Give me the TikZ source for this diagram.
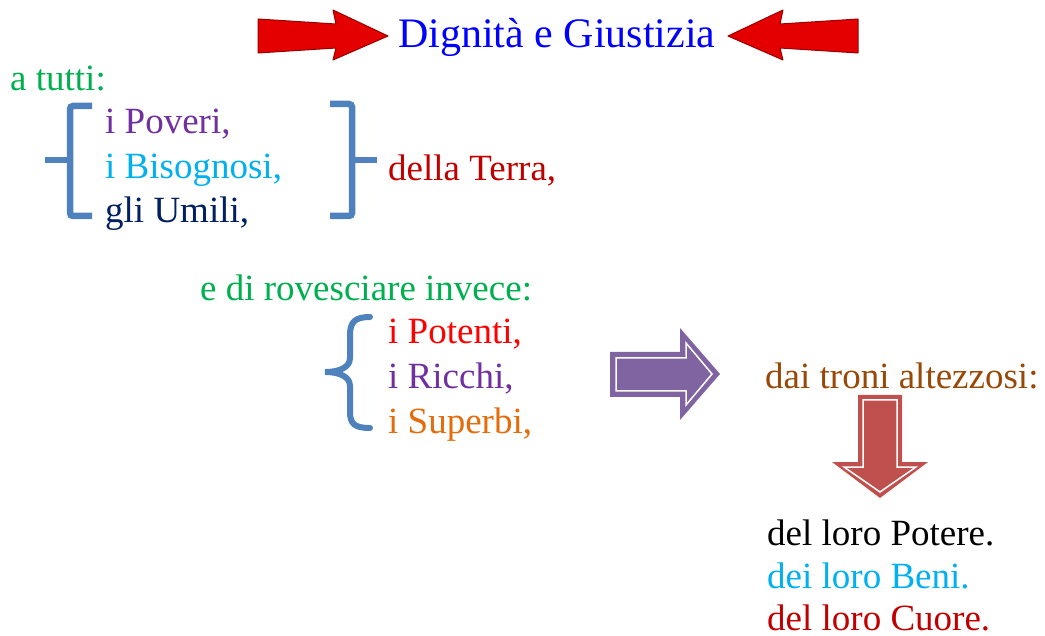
\documentclass[tikz,border=0pt]{standalone}
\usepackage{fontspec}
\setmainfont{Liberation Serif}
\definecolor{verde}{HTML}{00B050}
\definecolor{viola}{HTML}{7030A0}
\definecolor{celeste}{HTML}{00B0F0}
\definecolor{blunotte}{HTML}{002060}
\definecolor{rossoscuro}{HTML}{C00000}
\definecolor{arancio}{HTML}{E46C0A}
\definecolor{marrone}{HTML}{984807}
\definecolor{azzurro}{HTML}{4F81BD}
\definecolor{lilla}{HTML}{8064A2}
\definecolor{mattone}{HTML}{C0504D}
\tikzset{
  txt/.style={anchor=base west,inner sep=0pt,font=\fontsize{37}{45}\selectfont},
  brk/.style={color=azzurro,line width=6.5pt,rounded corners=3pt},
  frecciarossa/.style={fill=red!90!black,draw=red!60!black,line width=1pt,line join=round}
}
\begin{document}
\begin{tikzpicture}[x=1pt,y=-1pt]
\useasboundingbox (0,0) rectangle (1045,636);
% titolo
\node[txt,font=\fontsize{42}{50}\selectfont,text=blue] (titolo) at (398,48) {Dignità e Giustizia};
\filldraw[frecciarossa] (258,19) -- (336,24) -- (333,10) -- (388,36) -- (333,60) -- (336,48) -- (258,53) -- cycle;
\filldraw[frecciarossa] (858,19) -- (780,24) -- (783,10) -- (728,36) -- (783,60) -- (780,48) -- (858,53) -- cycle;
% prima parte
\node[txt,text=verde] (tutti) at (10,91) {a tutti:};
\node[txt,text=viola] (poveri) at (105,134) {i Poveri,};
\node[txt,text=celeste] (bisognosi) at (105,179) {i Bisognosi,};
\node[txt,text=blunotte] (umili) at (105,223) {gli Umili,};
\draw[brk] (92,106) -- (70,106) -- (70,216) -- (92,216);
\draw[brk] (70,160) -- (45,160);
\draw[brk] (330,104) -- (352,104) -- (352,216) -- (330,216);
\draw[brk] (352,160) -- (377,160);
\node[txt,text=rossoscuro] (terra) at (388,181) {della Terra,};
% seconda parte
\node[txt,text=verde] (rovesciare) at (200,301) {e di rovesciare invece:};
\draw[color=azzurro,line width=6pt,line cap=round] (370,317) .. controls (355,317) and (350,322) .. (350,335) -- (350,358)
  .. controls (350,367) and (340,372) .. (325,372) .. controls (340,372) and (350,377) .. (350,386)
  -- (350,412) .. controls (350,424) and (355,428) .. (370,428);
\node[txt,text=red] (potenti) at (388,344) {i Potenti,};
\node[txt,text=viola] (ricchi) at (388,389) {i Ricchi,};
\node[txt,text=arancio] (superbi) at (388,434) {i Superbi,};
% frecce
\fill[lilla] (610,352) -- (680,352) -- (680,328) -- (720,374) -- (680,420) -- (680,397) -- (610,397) -- cycle;
\draw[white,line width=1.5pt] (616,358) -- (686,358) -- (686,343) -- (712,374) -- (686,405) -- (686,391) -- (616,391) -- cycle;
\node[txt,text=marrone] (troni) at (765,389) {dai troni altezzosi:};
\fill[mattone] (858,395) -- (902,395) -- (902,462) -- (928,462) -- (880,498) -- (832,462) -- (858,462) -- cycle;
\draw[white,line width=1.5pt] (863,400) -- (897,400) -- (897,467) -- (916,467) -- (880,492) -- (844,467) -- (863,467) -- cycle;
% terza parte
\node[txt] (potere) at (767,545) {del loro Potere.};
\node[txt,text=celeste] (beni) at (767,588) {dei loro Beni.};
\node[txt,text=rossoscuro] (cuore) at (767,630) {del loro Cuore.};
\end{tikzpicture}
\end{document}
